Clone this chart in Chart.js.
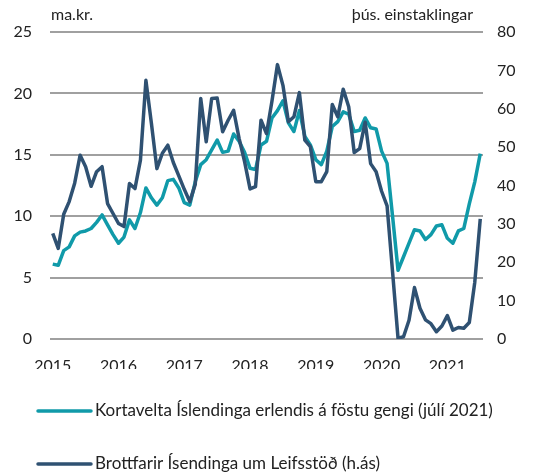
<!DOCTYPE html>
<html>
<head>
<meta charset="utf-8">
<script src="https://cdn.jsdelivr.net/npm/chart.js@4.4.1/dist/chart.umd.min.js"></script>
<style>
  body { margin: 0; background: #fff; }
</style>
</head>
<body>
<canvas id="grafico" width="535" height="476"></canvas>
<script>
// manaðarleg gögn jan 2015 - júl 2021
var ar = ["2015", "2016", "2017", "2018", "2019", "2020", "2021"];

var kortavelta = [
  6.1, 6.0, 7.2, 7.5, 8.4, 8.7, 8.8, 9.0, 9.5, 10.1, 9.3, 8.5,
  7.8, 8.3, 9.7, 9.0, 10.3, 12.3, 11.5, 10.9, 11.5, 12.9, 13.0, 12.3,
  11.1, 10.9, 12.8, 14.2, 14.6, 15.4, 16.2, 15.2, 15.3, 16.7, 16.1, 15.2,
  13.9, 13.8, 15.8, 16.1, 18.0, 18.6, 19.4, 17.6, 16.9, 18.6, 16.5, 15.8,
  14.6, 14.2, 15.3, 17.3, 17.7, 18.5, 18.3, 16.9, 17.0, 18.0, 17.2, 17.1,
  15.3, 14.3, 10.0, 5.6, 6.7, 7.8, 8.9, 8.8, 8.1, 8.5, 9.2, 9.3,
  8.2, 7.8, 8.8, 9.0, 11.0, 12.8, 15.1
];

var brottfarir = [
  27.5, 23.6, 32.5, 35.8, 40.6, 47.9, 44.9, 39.8, 43.6, 44.9, 35.3, 32.7,
  30.1, 29.3, 40.5, 39.2, 46.6, 67.4, 56.2, 44.4, 48.4, 50.5, 46.0, 42.5,
  39.0, 35.8, 40.3, 62.7, 51.4, 62.7, 62.8, 54.0, 57.0, 59.6, 52.3, 46.2,
  39.1, 39.7, 57.0, 53.5, 62.0, 71.5, 66.1, 56.6, 57.9, 64.2, 51.8, 50.1,
  41.0, 41.0, 43.6, 61.1, 57.9, 65.1, 60.5, 48.6, 49.6, 56.5, 45.7, 43.6,
  38.5, 34.7, 17.5, 0.2, 0.6, 4.9, 13.4, 8.0, 5.0, 4.0, 1.9, 3.4,
  6.1, 2.3, 3.0, 2.8, 4.3, 14.8, 31.3
];

var letur = "Lato";
var textalitur = "#222222";

// einingar ofan við ása og skýringar neðst
var etiquetas = {
  id: "etiquetas",
  afterDraw: function(chart) {
    var ctx = chart.ctx;
    ctx.save();
    ctx.font = "16px " + letur;
    ctx.fillStyle = textalitur;
    ctx.textBaseline = "middle";
    ctx.textAlign = "left";
    ctx.fillText("ma.kr.", 51, 15);
    ctx.textAlign = "right";
    ctx.fillText("þús. einstaklingar", 473, 15);

    ctx.font = "17px " + letur;
    ctx.textAlign = "left";
    var rodun = [1, 0];
    rodun.forEach(function(i, r) {
      var ds = chart.data.datasets[i];
      var y = 411 + r * 53;
      ctx.strokeStyle = ds.borderColor;
      ctx.lineWidth = 3.5;
      ctx.lineCap = "round";
      ctx.beginPath();
      ctx.moveTo(38, y);
      ctx.lineTo(91, y);
      ctx.stroke();
      ctx.fillText(ds.label, 95, y);
    });
    ctx.restore();
  }
};

new Chart(document.getElementById("grafico"), {
  type: "line",
  data: {
    datasets: [
      {
        label: "Brottfarir Ísendinga um Leifsstöð (h.ás)",
        data: brottfarir.map(function(v, i) { return {x: i, y: v}; }),
        borderColor: "#2f5172",
        borderWidth: 3.5,
        pointRadius: 0,
        tension: 0,
        borderJoinStyle: "round",
        yAxisID: "y1",
        order: 0
      },
      {
        label: "Kortavelta Íslendinga erlendis á föstu gengi (júlí 2021)",
        data: kortavelta.map(function(v, i) { return {x: i, y: v}; }),
        borderColor: "#109aa9",
        borderWidth: 3.5,
        pointRadius: 0,
        tension: 0,
        borderJoinStyle: "round",
        yAxisID: "y",
        order: 1
      }
    ]
  },
  options: {
    responsive: false,
    animation: false,
    layout: { padding: { top: 32, bottom: 107, left: 0, right: 0 } },
    plugins: {
      legend: { display: false },
      tooltip: { enabled: false }
    },
    scales: {
      x: {
        type: "linear",
        min: -0.5,
        max: 78.5,
        afterBuildTicks: function(s) {
          s.ticks = ar.map(function(a, k) { return {value: k * 12}; });
        },
        afterFit: function(s) { s.height = 30; },
        grid: { display: false },
        border: { display: false },
        ticks: {
          autoSkip: false,
          maxRotation: 0,
          padding: 9,
          color: textalitur,
          font: { family: letur, size: 16 },
          callback: function(v, idx) { return ar[idx]; }
        }
      },
      y: {
        position: "left",
        min: 0,
        max: 25,
        afterFit: function(s) { s.width = 50; },
        grid: { color: "#a0a0a0", lineWidth: 2, drawTicks: false },
        border: { display: false },
        ticks: {
          stepSize: 5,
          padding: 18,
          color: textalitur,
          font: { family: letur, size: 16 }
        }
      },
      y1: {
        position: "right",
        min: 0,
        max: 80,
        afterFit: function(s) { s.width = 52; },
        grid: { display: false, drawTicks: false },
        border: { display: false },
        ticks: {
          stepSize: 10,
          padding: 14,
          color: textalitur,
          font: { family: letur, size: 16 }
        }
      }
    }
  },
  plugins: [etiquetas]
});
</script>
</body>
</html>
